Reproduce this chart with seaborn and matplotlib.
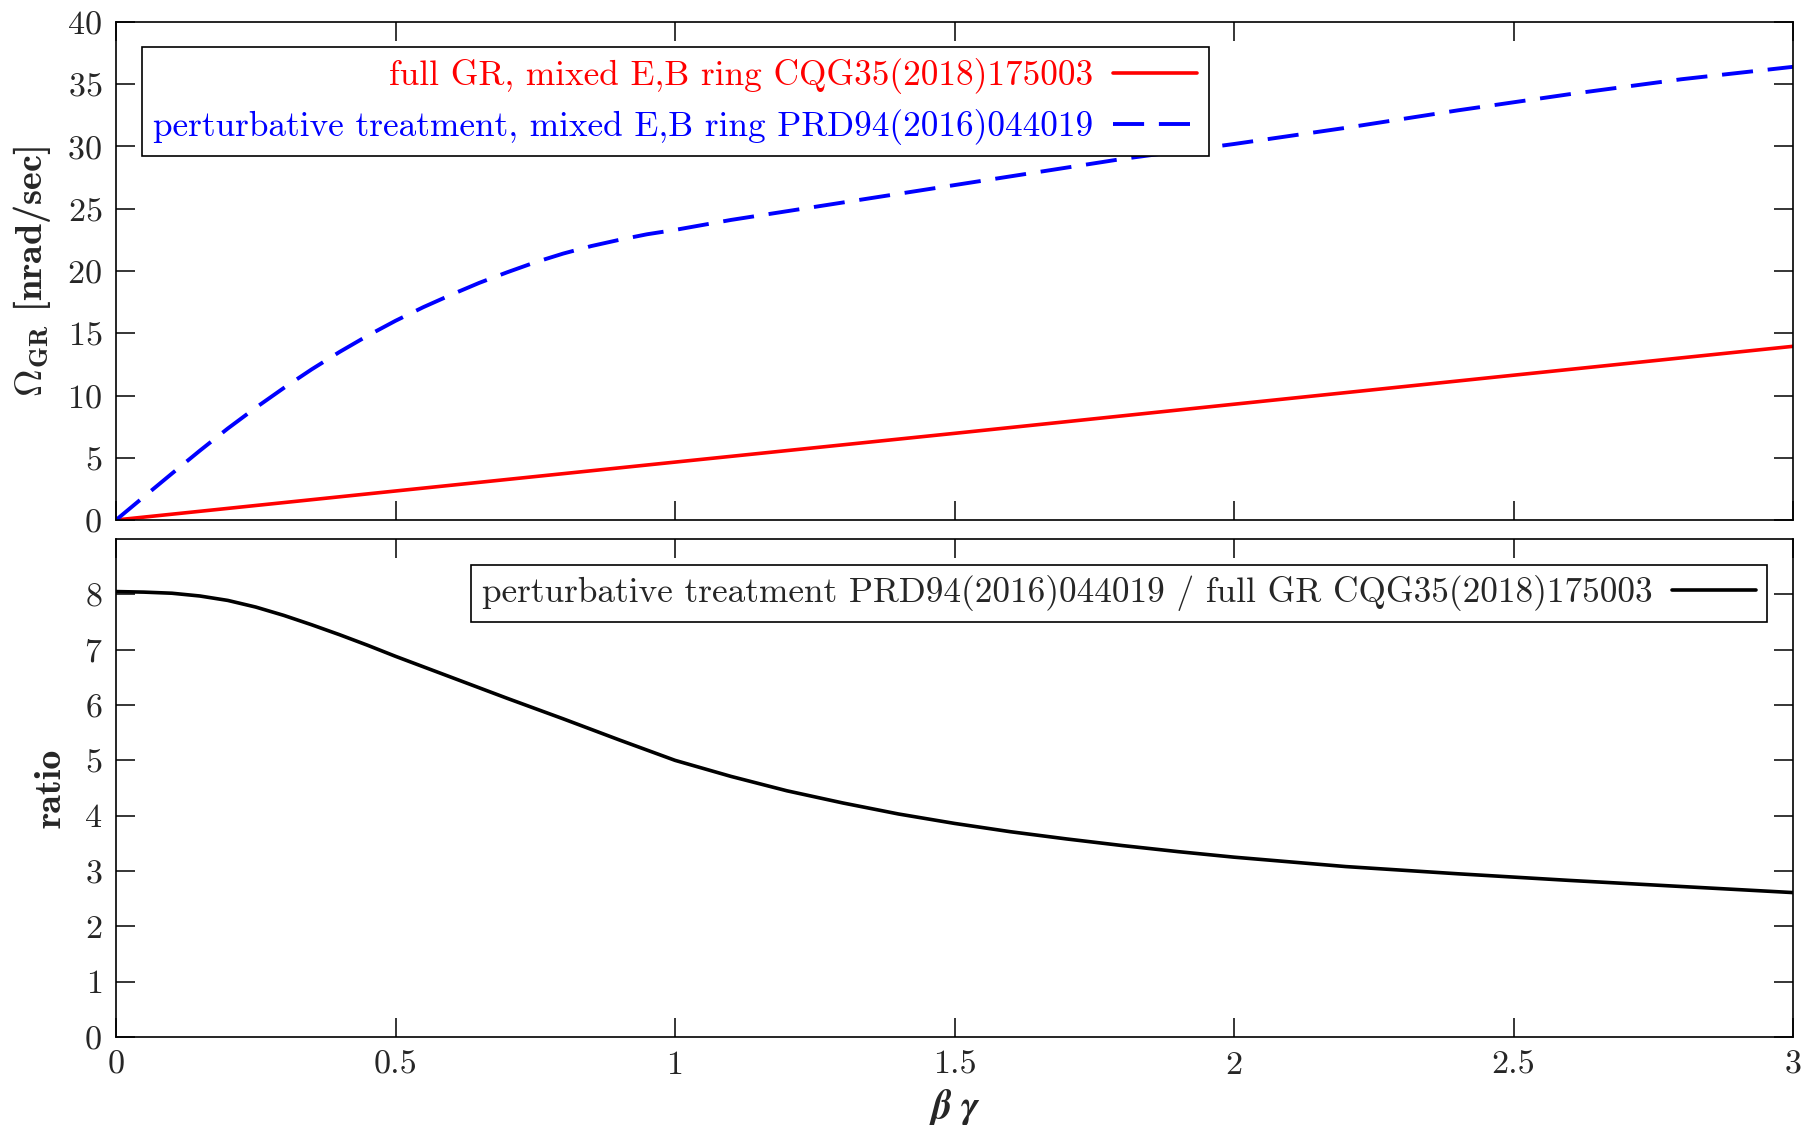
import matplotlib
matplotlib.use("Agg")
import matplotlib.pyplot as plt
import seaborn as sns
import pandas as pd
import numpy as np

# ---- data ----
bg_red = [0.0, 0.5, 1.0, 1.5, 2.0, 2.5, 3.0]
omega_full = [0.0, 2.33, 4.65, 6.96, 9.3, 11.63, 13.95]

bg_blue = [0.0, 0.05, 0.1, 0.15, 0.2, 0.25, 0.3, 0.35, 0.4, 0.45, 0.5, 0.55, 0.6, 0.65, 0.7,
           0.75, 0.8, 0.85, 0.9, 0.95, 1.0, 1.1, 1.2, 1.3, 1.4, 1.5, 1.6, 1.8, 2.0, 2.2, 2.4,
           2.6, 2.8, 3.0]
omega_pert = [0.0, 1.87, 3.73, 5.57, 7.35, 9.02, 10.6, 12.1, 13.5, 14.8, 16.0, 17.1, 18.1,
              19.05, 19.9, 20.7, 21.4, 22.0, 22.5, 22.95, 23.3, 24.1, 24.8, 25.5, 26.2, 26.9,
              27.6, 29.0, 30.2, 31.5, 32.9, 34.2, 35.4, 36.4]

bg_ratio = [0.0, 0.05, 0.1, 0.15, 0.2, 0.25, 0.3, 0.35, 0.4, 0.45, 0.5, 0.6, 0.7, 0.8, 0.9,
            1.0, 1.1, 1.2, 1.3, 1.4, 1.5, 1.6, 1.7, 1.8, 1.9, 2.0, 2.2, 2.4, 2.6, 2.8, 3.0]
ratio = [8.05, 8.04, 8.02, 7.97, 7.89, 7.77, 7.62, 7.45, 7.27, 7.08, 6.88, 6.5, 6.12, 5.75,
         5.37, 5.0, 4.71, 4.45, 4.23, 4.03, 3.86, 3.71, 3.58, 3.46, 3.35, 3.25, 3.08, 2.95,
         2.83, 2.72, 2.61]

x_ticks = [0, 0.5, 1, 1.5, 2, 2.5, 3]
x_ticklabels = ["0", "0.5", "1", "1.5", "2", "2.5", "3"]
y_top_ticks = [0, 5, 10, 15, 20, 25, 30, 35, 40]
y_bot_ticks = [0, 1, 2, 3, 4, 5, 6, 7, 8]

lab_full = "full GR, mixed E,B ring CQG35(2018)175003"
lab_pert = "perturbative treatment, mixed E,B ring PRD94(2016)044019"
lab_ratio = "perturbative treatment PRD94(2016)044019 / full GR CQG35(2018)175003"

sns.set_style("ticks")
plt.rcParams["font.family"] = ["cmr10"]
plt.rcParams["mathtext.fontset"] = "cm"
plt.rcParams["axes.formatter.use_mathtext"] = True
plt.rcParams["axes.unicode_minus"] = False

fig = plt.figure(figsize=(18.05, 11.25), dpi=100)
L, R = 116 / 1805, 1793 / 1805
ax1 = fig.add_axes([L, 1 - 520 / 1125, R - L, (520 - 22) / 1125])
ax2 = fig.add_axes([L, 1 - 1037 / 1125, R - L, (1037 - 539) / 1125])

df_full = pd.DataFrame({"x": bg_red, "y": omega_full})
df_pert = pd.DataFrame({"x": bg_blue, "y": omega_pert})
df_ratio = pd.DataFrame({"x": bg_ratio, "y": ratio})

sns.lineplot(data=df_full, x="x", y="y", ax=ax1, color="#ff0000", lw=2.6, label=lab_full)
sns.lineplot(data=df_pert, x="x", y="y", ax=ax1, color="#0000ff", lw=2.8, label=lab_pert)
ax1.lines[1].set_dashes((8, 3.8))
sns.lineplot(data=df_ratio, x="x", y="y", ax=ax2, color="black", lw=2.6, label=lab_ratio)

fs = 24.5
lfs = 25.4
labfs = 27.5
for ax in (ax1, ax2):
    ax.set_xlim(0, 3)
    ax.set_xticks(x_ticks)
    ax.tick_params(direction="in", length=14, width=1.1, top=True, right=True,
                   labelsize=fs, pad=10, color="black")
    for s in ax.spines.values():
        s.set_linewidth(1.2)
        s.set_color("black")
        s.set_visible(True)

ax1.set_ylim(0, 40)
ax1.set_yticks(y_top_ticks)
ax1.set_xticklabels([])
ax1.set_xlabel("")
ax1.set_ylabel(r"$\boldsymbol{\Omega}_{\mathbf{GR}}$ [nrad/sec]", fontsize=labfs,
               family="cmb10")
ax1.yaxis.set_label_coords(-0.0375, 0.5)

ax2.set_ylim(0, 9)
ax2.set_yticks(y_bot_ticks)
ax2.set_xticklabels(x_ticklabels)
ax2.set_ylabel("ratio", fontsize=labfs, family="cmb10")
ax2.yaxis.set_label_coords(-0.029, 0.5)
ax2.set_xlabel(r"$\boldsymbol{\beta}\;\boldsymbol{\gamma}$", fontsize=labfs + 1)
ax2.xaxis.set_label_coords(0.5, -0.1)

leg1 = ax1.legend(loc="upper left", bbox_to_anchor=(0.0155, 0.95), markerfirst=False,
                  fontsize=lfs, frameon=True, fancybox=False, framealpha=1,
                  edgecolor="black", handlelength=2.4, handletextpad=0.55, borderpad=0.32,
                  labelspacing=0.42, borderaxespad=0)
leg1.get_frame().set_linewidth(1.2)
leg1.texts[0].set_color("#ff0000")
leg1.texts[1].set_color("#0000ff")
for t in leg1.texts:
    t.set_ha("right")
leg1._legend_box.align = "right"

leg2 = ax2.legend(loc="upper right", bbox_to_anchor=(0.9845, 0.948), markerfirst=False,
                  fontsize=lfs, frameon=True, fancybox=False, framealpha=1,
                  edgecolor="black", handlelength=2.4, handletextpad=0.55, borderpad=0.3,
                  borderaxespad=0)
leg2.get_frame().set_linewidth(1.2)

fig.savefig("out.png", dpi=100)
